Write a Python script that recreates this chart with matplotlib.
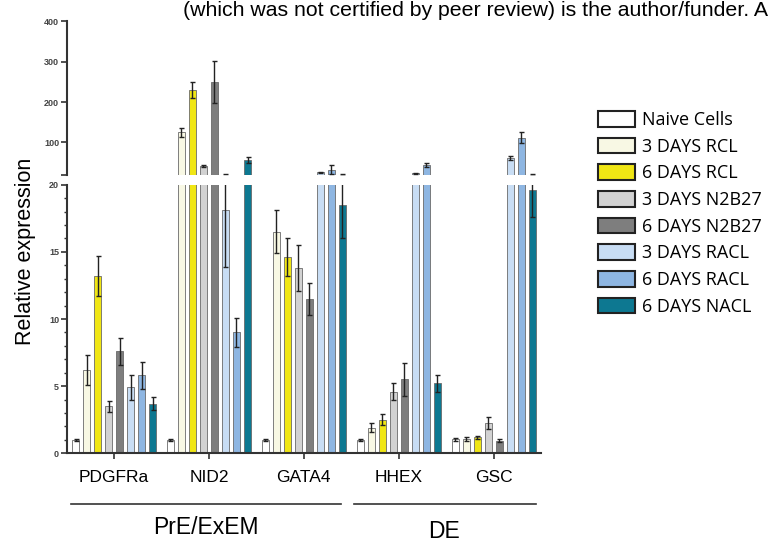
import numpy as np
import matplotlib
matplotlib.use("Agg")
import matplotlib.pyplot as plt
from matplotlib.patches import Patch
from matplotlib.ticker import MultipleLocator
from matplotlib.transforms import blended_transform_factory

plt.rcParams["font.family"] = ["Liberation Sans", "DejaVu Sans"]

# data
genes = ["PDGFRa", "NID2", "GATA4", "HHEX", "GSC"]
conditions = ["Naive Cells", "3 DAYS RCL", "6 DAYS RCL", "3 DAYS N2B27",
              "6 DAYS N2B27", "3 DAYS RACL", "6 DAYS RACL", "6 DAYS NACL"]
colors = ["#ffffff", "#f8f8e4", "#f0e614", "#d2d2d2",
          "#7e7e7e", "#c8ddf4", "#8eb6e2", "#0d7891"]

pdgfra = [1.0, 6.2, 13.2, 3.5, 7.6, 4.9, 5.8, 3.7]
nid2 = [1.0, 125, 230, 42, 250, 18.1, 9.0, 57]
gata4 = [1.0, 16.5, 14.6, 13.8, 11.5, 26, 33, 18.5]
hhex = [1.0, 1.9, 2.5, 4.6, 5.5, 24, 45, 5.2]
gsc = [1.05, 1.1, 1.2, 2.25, 0.95, 62, 112, 19.6]

pdgfra_err = [0.1, 1.1, 1.5, 0.4, 1.0, 0.9, 1.0, 0.5]
nid2_err = [0.1, 12, 20, 3, 52, 4.2, 1.1, 7]
gata4_err = [0.1, 1.6, 1.4, 1.7, 1.2, 2, 10, 2.5]
hhex_err = [0.1, 0.35, 0.4, 0.6, 1.2, 1, 5, 0.6]
gsc_err = [0.1, 0.15, 0.1, 0.45, 0.1, 5, 14, 2]

values = np.array([pdgfra, nid2, gata4, hhex, gsc])
errors = np.array([pdgfra_err, nid2_err, gata4_err, hhex_err, gsc_err])

BREAK = 20  # where the axis is split

fig = plt.figure(figsize=(7.71, 5.51), dpi=100)
ax_lo = fig.add_axes([0.0865, 0.1773, 0.6152, 0.4875])
ax_hi = fig.add_axes([0.0865, 0.6828, 0.6152, 0.2785])

x = np.arange(len(genes))
step = 0.116
width = 0.075

for ax in (ax_lo, ax_hi):
    for i in range(len(conditions)):
        pos = x + (i - 3.5) * step
        ax.bar(pos, values[:, i], width, color=colors[i], edgecolor="#6a6a6a",
               linewidth=0.6, zorder=2)
        if ax is ax_hi:
            # only error bars that reach above the break
            m = values[:, i] + errors[:, i] > BREAK
            if not m.any():
                continue
            ax.errorbar(pos[m], values[m, i], yerr=errors[m, i], fmt="none",
                        ecolor="#222222", elinewidth=1, capsize=1.8, capthick=1, zorder=3)
        else:
            ax.errorbar(pos, values[:, i], yerr=errors[:, i], fmt="none",
                        ecolor="#222222", elinewidth=1, capsize=1.8, capthick=1, zorder=3)
    ax.set_xlim(-0.5, 4.5)
    for s in ("top", "right"):
        ax.spines[s].set_visible(False)
    ax.spines["left"].set_linewidth(1.5)
    ax.spines["left"].set_color("#333333")

# lower panel 0-20
ax_lo.set_ylim(0, BREAK)
ax_lo.yaxis.set_major_locator(MultipleLocator(5))
ax_lo.yaxis.set_minor_locator(MultipleLocator(1))
ax_lo.tick_params(axis="y", which="major", length=4, width=1.2, labelsize=6.5,
                  labelcolor="#444444", pad=1.5, color="#333333")
ax_lo.tick_params(axis="y", which="minor", length=2.5, width=1, color="#333333")
for lab in ax_lo.get_yticklabels():
    lab.set_fontweight("bold")
ax_lo.spines["bottom"].set_linewidth(1.5)
ax_lo.spines["bottom"].set_color("#333333")
ax_lo.set_xticks(x)
ax_lo.set_xticklabels(genes, fontsize=12.5)
ax_lo.tick_params(axis="x", length=4, width=1.2, pad=8, color="#333333")

# upper panel 20-400
ax_hi.set_ylim(BREAK, 400)
ax_hi.set_yticks([BREAK, 100, 200, 300, 400])
ax_hi.set_yticklabels(["", "100", "200", "300", "400"])
ax_hi.tick_params(axis="y", length=4, width=1.2, labelsize=6.5,
                  labelcolor="#444444", pad=1.5, color="#333333")
for lab in ax_hi.get_yticklabels():
    lab.set_fontweight("bold")
ax_hi.spines["bottom"].set_visible(False)
ax_hi.set_xticks([])

fig.text(26 / 771, 1 - 251 / 551, "Relative expression", rotation=90,
         fontsize=15.5, ha="center", va="center")

# group brackets under the gene labels
tr = blended_transform_factory(ax_lo.transData, fig.transFigure)
line_y = 1 - 504 / 551
ax_lo.plot([-0.45, 2.39], [line_y, line_y], color="#333333", lw=1.2,
           transform=tr, clip_on=False)
ax_lo.plot([2.53, 4.45], [line_y, line_y], color="#333333", lw=1.2,
           transform=tr, clip_on=False)
ax_lo.text(0.97, 1 - 528 / 551, "PrE/ExEM", transform=tr, ha="center", va="center",
           fontsize=16.5)
ax_lo.text(3.48, 1 - 532 / 551, "DE", transform=tr, ha="center", va="center",
           fontsize=16.5)

handles = [Patch(facecolor=c, edgecolor="#222222", linewidth=1.5) for c in colors]
fig.legend(handles, conditions, loc="upper left",
           bbox_to_anchor=(598 / 771, 1 - 111 / 551), frameon=False,
           borderpad=0, borderaxespad=0, handlelength=2.05, handleheight=0.95,
           handletextpad=0.4, labelspacing=0.48,
           prop={"family": ["Open Sans", "DejaVu Sans"], "size": 13})

fig.text(183 / 771, 1 - 16 / 551,
         "(which was not certified by peer review) is the author/funder. A",
         fontsize=15.3, va="baseline", ha="left")

fig.savefig("out.png", dpi=100)
